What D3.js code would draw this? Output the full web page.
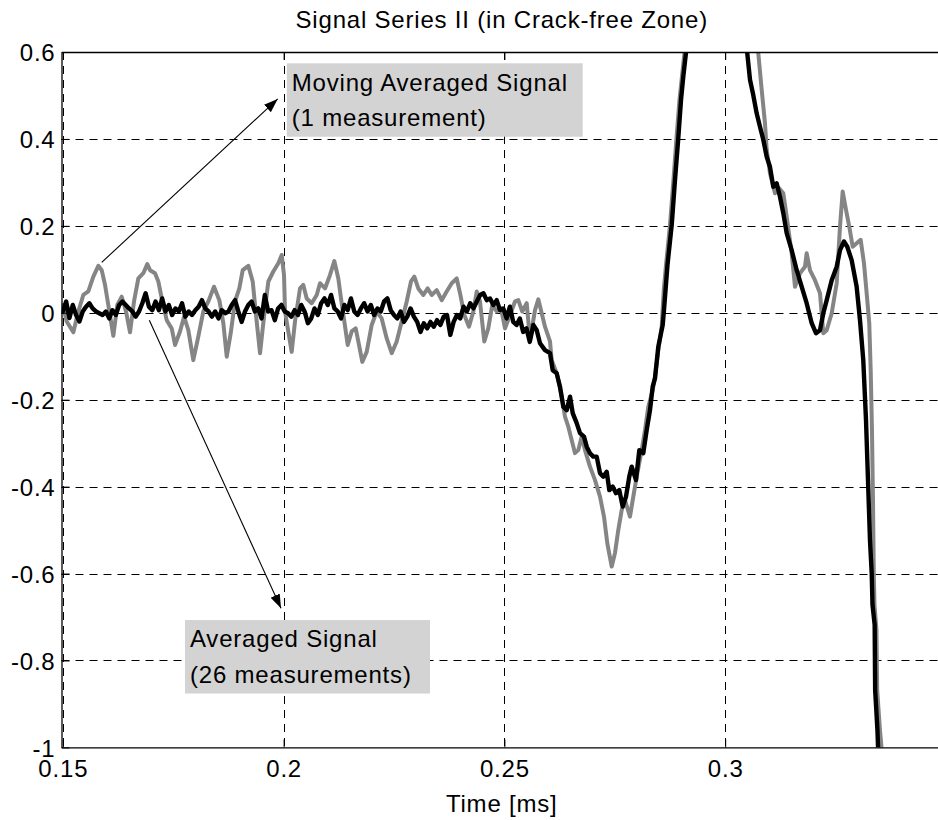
<!DOCTYPE html>
<html>
<head>
<meta charset="utf-8">
<script src="https://cdn.jsdelivr.net/npm/d3@7"></script>
<style>
  html, body { margin: 0; padding: 0; background: #fff; }
  svg text { font-family: "Liberation Sans", Arial, Helvetica, sans-serif; font-size: 24px; letter-spacing: 0.8px; fill: #000; }
</style>
</head>
<body>
<svg id="chart" width="938" height="820"></svg>
<script>
const xTicks = [0.15, 0.2, 0.25, 0.3];
const xTickLabels = ["0.15", "0.2", "0.25", "0.3"];
const yTicks = [-1, -0.8, -0.6, -0.4, -0.2, 0, 0.2, 0.4, 0.6];
const yTickLabels = ["-1", "-0.8", "-0.6", "-0.4", "-0.2", "0", "0.2", "0.4", "0.6"];

// moving averaged signal, 1 measurement (grey)
const graySignal = [
  [0.15, 0.018], [0.15088, -0.020], [0.15238, -0.045], [0.15351, 0.003], [0.15464, 0.041],
  [0.15577, 0.049], [0.15691, 0.083], [0.15804, 0.108], [0.15881, 0.098], [0.15956, 0.064],
  [0.16030, 0.018], [0.16144, -0.053], [0.16234, 0.018], [0.16334, 0.037], [0.16431, 0.003],
  [0.16522, -0.045], [0.16612, 0.026], [0.16710, 0.079], [0.16823, 0.091], [0.16913, 0.112],
  [0.16975, 0.098], [0.17088, 0.091], [0.17163, 0.072], [0.17240, 0.033], [0.17353, -0.017],
  [0.17466, -0.036], [0.17541, -0.074], [0.17654, -0.043], [0.17745, -0.009], [0.17842, -0.040],
  [0.17955, -0.109], [0.18068, -0.055], [0.18182, 0.003], [0.18295, 0.026], [0.18424, 0.060],
  [0.18544, 0.029], [0.18635, -0.024], [0.18712, -0.101], [0.18802, -0.047], [0.18899, 0.026],
  [0.18997, 0.056], [0.19074, 0.098], [0.19201, 0.108], [0.19300, 0.072], [0.19375, -0.005],
  [0.19466, -0.093], [0.19556, -0.009], [0.19654, 0.072], [0.19767, 0.095], [0.19880, 0.114],
  [0.19957, 0.133], [0.20009, 0.087], [0.20032, 0.003], [0.20106, -0.043], [0.20183, -0.090],
  [0.20258, -0.020], [0.20371, 0.056], [0.20446, 0.064], [0.20523, 0.033], [0.20636, 0.022],
  [0.20750, 0.041], [0.20824, 0.068], [0.20938, 0.056], [0.21051, 0.087], [0.21148, 0.119],
  [0.21239, 0.079], [0.21300, 0.033], [0.21375, -0.020], [0.21452, -0.074], [0.21542, -0.043],
  [0.21633, -0.036], [0.21707, -0.074], [0.21782, -0.113], [0.21882, -0.090], [0.21995, -0.028],
  [0.22108, 0.003], [0.22221, -0.013], [0.22335, -0.059], [0.22448, -0.093], [0.22561, -0.066],
  [0.22674, -0.020], [0.22788, 0.026], [0.22885, 0.072], [0.22960, 0.083], [0.23050, 0.056],
  [0.23164, 0.041], [0.23263, 0.056], [0.23354, 0.041], [0.23467, 0.052], [0.23580, 0.029],
  [0.23693, 0.049], [0.23807, 0.068], [0.23920, 0.079], [0.23995, 0.045], [0.24092, -0.005],
  [0.24198, -0.032], [0.24296, 0.003], [0.24373, 0.049], [0.24447, 0.026], [0.24545, -0.066],
  [0.24635, -0.036], [0.24726, 0.018], [0.24826, 0.003], [0.24923, 0.010], [0.25014, -0.036],
  [0.25127, -0.005], [0.25240, 0.026], [0.25315, 0.029], [0.25405, 0.003], [0.25505, 0.022],
  [0.25580, -0.063], [0.25693, 0.006], [0.25768, 0.031], [0.25845, -0.001], [0.25919, -0.032],
  [0.26033, -0.066], [0.26071, -0.109], [0.26184, -0.139], [0.26298, -0.193], [0.26372, -0.239],
  [0.26447, -0.262], [0.26524, -0.293], [0.26599, -0.323], [0.26673, -0.316], [0.26750, -0.285],
  [0.26825, -0.316], [0.26938, -0.354], [0.27052, -0.385], [0.27165, -0.423], [0.27255, -0.469],
  [0.27330, -0.530], [0.27430, -0.584], [0.27504, -0.553], [0.27579, -0.500], [0.27656, -0.454],
  [0.27731, -0.431], [0.27844, -0.469], [0.27919, -0.423], [0.27996, -0.377], [0.28109, -0.316],
  [0.28184, -0.270], [0.28259, -0.216], [0.28358, -0.178], [0.28410, -0.147], [0.28485, -0.086],
  [0.28562, -0.032], [0.28609, 0.052], [0.28660, 0.110], [0.28750, 0.202], [0.28829, 0.306],
  [0.28897, 0.402], [0.28965, 0.490], [0.29078, 0.598], [0.29274, 0.72], [0.29500, 0.81],
  [0.29837, 0.87], [0.30222, 0.82], [0.30562, 0.74], [0.30750, 0.597], [0.30827, 0.513],
  [0.30901, 0.436], [0.30940, 0.375], [0.31014, 0.321], [0.31128, 0.275], [0.31218, 0.287],
  [0.31316, 0.275], [0.31393, 0.221], [0.31506, 0.137], [0.31581, 0.060], [0.31694, 0.091],
  [0.31807, 0.106], [0.31845, 0.137], [0.31920, 0.098], [0.32033, 0.075], [0.32147, 0.045],
  [0.32222, -0.047], [0.32299, -0.040], [0.32412, -0.001], [0.32525, 0.068], [0.32600, 0.198],
  [0.32661, 0.279], [0.32736, 0.237], [0.32810, 0.198], [0.32887, 0.152], [0.32977, 0.160],
  [0.33068, 0.168], [0.33143, 0.114], [0.33204, 0.045], [0.33263, -0.024], [0.33295, -0.132],
  [0.33324, -0.270], [0.33347, -0.431], [0.33365, -0.599], [0.33381, -0.672], [0.33426, -0.730],
  [0.33442, -0.868], [0.33505, -0.960], [0.33566, -1.029]
];

// averaged signal, 26 measurements (black)
const blackSignal = [
  [0.15, 0.003], [0.15075, 0.026], [0.1515, -0.012], [0.15225, 0.018], [0.153, -0.005],
  [0.15375, -0.020], [0.1545, 0.003], [0.15525, 0.014], [0.156, 0.022], [0.15675, 0.010],
  [0.1575, 0.003], [0.15825, -0.001], [0.159, -0.005], [0.15975, 0.003], [0.1605, -0.013],
  [0.16125, 0.006], [0.162, -0.005], [0.16275, 0.018], [0.1635, 0.026], [0.16425, 0.018],
  [0.165, 0.010], [0.16575, 0.003], [0.1665, -0.009], [0.16725, 0.003], [0.168, 0.022],
  [0.16875, 0.045], [0.1695, 0.014], [0.17025, 0.006], [0.171, 0.026], [0.17175, 0.006],
  [0.1725, 0.033], [0.17325, 0.003], [0.174, 0.018], [0.17475, -0.005], [0.1755, 0.010],
  [0.17625, 0.003], [0.177, 0.022], [0.17775, -0.009], [0.1785, 0.003], [0.17925, -0.005],
  [0.18, 0.006], [0.18075, 0.014], [0.1815, 0.029], [0.18225, 0.010], [0.183, 0.003],
  [0.18375, -0.009], [0.1845, 0.003], [0.18525, -0.013], [0.186, 0.006], [0.18675, -0.001],
  [0.1875, 0.003], [0.18825, 0.018], [0.189, 0.029], [0.18975, 0.003], [0.1905, -0.021],
  [0.19125, 0.003], [0.192, 0.018], [0.19275, 0.026], [0.1935, 0.003], [0.19425, 0.010],
  [0.195, -0.013], [0.19575, 0.041], [0.1965, 0.003], [0.19725, 0.006], [0.198, -0.017],
  [0.19875, 0.010], [0.1995, 0.018], [0.20025, 0.003], [0.201, -0.001], [0.20175, -0.009],
  [0.2025, 0.006], [0.20325, -0.005], [0.204, 0.018], [0.20475, 0.003], [0.2055, -0.024],
  [0.20625, -0.013], [0.207, 0.010], [0.20775, -0.005], [0.2085, 0.022], [0.20925, 0.033],
  [0.21, 0.018], [0.21075, 0.041], [0.2115, 0.010], [0.21225, 0.003], [0.213, -0.013],
  [0.21375, 0.018], [0.2145, 0.006], [0.21525, 0.033], [0.216, 0.003], [0.21675, -0.005],
  [0.2175, 0.010], [0.21825, 0.022], [0.219, 0.003], [0.21975, 0.018], [0.2205, -0.005],
  [0.22125, 0.010], [0.222, 0.003], [0.22275, 0.026], [0.2235, 0.033], [0.22425, 0.006],
  [0.225, -0.005], [0.22575, -0.013], [0.2265, 0.003], [0.22725, -0.021], [0.228, -0.009],
  [0.22875, 0.010], [0.2295, -0.009], [0.23025, -0.021], [0.231, -0.044], [0.23175, -0.024],
  [0.2325, -0.036], [0.23325, -0.021], [0.234, -0.032], [0.23475, -0.017], [0.2355, -0.028],
  [0.23625, -0.009], [0.237, -0.005], [0.23775, -0.051], [0.2385, -0.021], [0.23925, -0.005],
  [0.24, -0.013], [0.24075, 0.014], [0.2415, 0.003], [0.24225, 0.022], [0.243, 0.010],
  [0.24375, 0.026], [0.2445, 0.041], [0.24525, 0.045], [0.246, 0.029], [0.24675, 0.033],
  [0.2475, 0.018], [0.24825, 0.029], [0.249, 0.006], [0.24975, 0.010], [0.2505, -0.013],
  [0.25125, 0.014], [0.252, -0.021], [0.25275, -0.028], [0.2535, -0.013], [0.25425, -0.044],
  [0.255, -0.036], [0.25575, -0.067], [0.25655, -0.028], [0.25732, -0.040], [0.25806, -0.070],
  [0.25919, -0.086], [0.26033, -0.093], [0.26094, -0.132], [0.26184, -0.139], [0.26259, -0.170],
  [0.26334, -0.216], [0.26411, -0.224], [0.26486, -0.193], [0.26547, -0.231], [0.26637, -0.254],
  [0.26712, -0.277], [0.26803, -0.285], [0.26864, -0.308], [0.26938, -0.323], [0.27013, -0.331],
  [0.27090, -0.331], [0.27165, -0.369], [0.27240, -0.377], [0.27317, -0.366], [0.27376, -0.408],
  [0.27453, -0.400], [0.27527, -0.415], [0.27602, -0.408], [0.27679, -0.446], [0.27754, -0.423],
  [0.27828, -0.377], [0.27883, -0.354], [0.27980, -0.385], [0.28055, -0.316], [0.28145, -0.323],
  [0.28222, -0.270], [0.28297, -0.224], [0.28358, -0.170], [0.28410, -0.151], [0.28485, -0.078],
  [0.28585, -0.028], [0.28614, 0.006], [0.28693, 0.110], [0.28789, 0.202], [0.28864, 0.306],
  [0.28938, 0.402], [0.29, 0.490], [0.29051, 0.543], [0.29112, 0.598], [0.29316, 0.72],
  [0.29543, 0.81], [0.29837, 0.86], [0.30154, 0.81], [0.30380, 0.73], [0.30500, 0.597],
  [0.30562, 0.536], [0.30636, 0.501], [0.30713, 0.459], [0.30788, 0.428], [0.30863, 0.398],
  [0.30940, 0.359], [0.31014, 0.336], [0.31089, 0.290], [0.31166, 0.298], [0.31241, 0.267],
  [0.31316, 0.229], [0.31393, 0.183], [0.31506, 0.144], [0.31619, 0.098], [0.31732, 0.060],
  [0.31845, 0.022], [0.31959, -0.024], [0.32056, -0.047], [0.32147, -0.040], [0.32222, -0.001],
  [0.32299, 0.029], [0.32412, 0.075], [0.32525, 0.106], [0.32600, 0.144], [0.32690, 0.164],
  [0.32765, 0.152], [0.32864, 0.121], [0.32977, 0.060], [0.33053, -0.017], [0.33127, -0.109],
  [0.33189, -0.247], [0.33234, -0.385], [0.33279, -0.523], [0.33318, -0.599], [0.33336, -0.672],
  [0.33385, -0.718], [0.33396, -0.868], [0.33448, -0.960], [0.33472, -1.029]
];

// text boxes and arrows, in data units
const notes = [
  { lines: ["Moving Averaged Signal", "(1 measurement)"],
    box: [0.20073, 0.574, 0.26773, 0.405], from: [0.15881, 0.116], to: [0.19866, 0.492] },
  { lines: ["Averaged Signal", "(26 measurements)"],
    box: [0.17767, -0.707, 0.23315, -0.876], from: [0.16959, -0.017], to: [0.19941, -0.680] }
];

const svg = d3.select("#chart");

const plotLeft = 61.5, plotRight = 942, plotTop = 52, plotBottom = 747.4;

const xScale = d3.scaleLinear().domain([0.1497, 0.3491]).range([plotLeft, plotRight]);
const yScale = d3.scaleLinear().domain([-1, 0.6]).range([plotBottom, plotTop]);

let defs = svg.append("defs");

defs.append("clipPath").attr("id", "plotClip")
  .append("rect")
  .attr("x", plotLeft).attr("y", plotTop)
  .attr("width", plotRight - plotLeft).attr("height", plotBottom - plotTop);

defs.append("marker")
  .attr("id", "arrowHead")
  .attr("markerUnits", "userSpaceOnUse")
  .attr("markerWidth", 16).attr("markerHeight", 12)
  .attr("refX", 14).attr("refY", 5)
  .attr("orient", "auto")
  .append("path")
  .attr("d", "M0,0 L14,5 L0,10 Z")
  .attr("fill", "#000");

/* grid */
let grid = svg.append("g").attr("class", "grid")
  .attr("stroke", "#000").attr("stroke-width", 1).attr("stroke-dasharray", "8,6");

grid.selectAll(".vgrid").data(xTicks).enter().append("line")
  .attr("class", "vgrid")
  .attr("x1", (d) => Math.round(xScale(d)) + 0.5).attr("x2", (d) => Math.round(xScale(d)) + 0.5)
  .attr("y1", plotTop).attr("y2", plotBottom);

grid.selectAll(".hgrid").data(yTicks.filter((d) => d > -1 && d < 0.6)).enter().append("line")
  .attr("class", "hgrid")
  .attr("x1", plotLeft).attr("x2", plotRight)
  .attr("y1", (d) => Math.round(yScale(d)) + 0.5).attr("y2", (d) => Math.round(yScale(d)) + 0.5);

/* signals */
let line = d3.line().x((d) => xScale(d[0])).y((d) => yScale(d[1]));

let plot = svg.append("g").attr("clip-path", "url(#plotClip)");

plot.append("path")
  .datum(graySignal)
  .attr("d", line)
  .attr("fill", "none")
  .attr("stroke", "#858585")
  .attr("stroke-width", 4)
  .attr("stroke-linejoin", "round")
  .attr("stroke-linecap", "round");

plot.append("path")
  .datum(blackSignal)
  .attr("d", line)
  .attr("fill", "none")
  .attr("stroke", "#000")
  .attr("stroke-width", 4.4)
  .attr("stroke-linejoin", "round")
  .attr("stroke-linecap", "round");

/* axes box with inward ticks */
svg.append("g") /* x-axis bottom */
  .attr("transform", `translate(0, ${plotBottom})`)
  .call(d3.axisBottom(xScale).tickValues(xTicks).tickFormat((d, i) => xTickLabels[i])
    .tickSizeInner(-8).tickSizeOuter(0))
  .call((g) => g.select(".domain").attr("stroke-width", 1.3))
  .call((g) => g.selectAll("text").attr("font-size", null).attr("font-family", null).attr("y", 13).attr("dy", "0.71em"));

svg.append("g") /* x-axis top */
  .attr("transform", `translate(0, ${plotTop})`)
  .call(d3.axisTop(xScale).tickValues(xTicks).tickFormat("").tickSizeInner(-8).tickSizeOuter(0))
  .call((g) => g.select(".domain").attr("stroke-width", 1.3));

svg.append("g") /* y-axis */
  .attr("transform", `translate(${plotLeft}, 0)`)
  .call(d3.axisLeft(yScale).tickValues(yTicks).tickFormat((d, i) => yTickLabels[i])
    .tickSizeInner(-8).tickSizeOuter(0))
  .call((g) => g.select(".domain").attr("stroke-width", 1.3))
  .call((g) => g.selectAll("text").attr("font-size", null).attr("font-family", null).attr("x", -6).attr("dy", "0.36em"));

/* annotations */
let ann = svg.append("g").attr("class", "notes");

ann.selectAll(".arrow").data(notes).enter().append("line")
  .attr("class", "arrow")
  .attr("x1", (d) => xScale(d.from[0])).attr("y1", (d) => yScale(d.from[1]))
  .attr("x2", (d) => xScale(d.to[0])).attr("y2", (d) => yScale(d.to[1]))
  .attr("stroke", "#000").attr("stroke-width", 1.1)
  .attr("marker-end", "url(#arrowHead)");

let boxes = ann.selectAll(".box").data(notes).enter().append("g").attr("class", "box");

boxes.append("rect")
  .attr("x", (d) => xScale(d.box[0]))
  .attr("y", (d) => yScale(d.box[1]))
  .attr("width", (d) => xScale(d.box[2]) - xScale(d.box[0]))
  .attr("height", (d) => yScale(d.box[3]) - yScale(d.box[1]))
  .attr("fill", "#d3d3d3");

boxes.each(function(d) {
  let bx = xScale(d.box[0]), by = yScale(d.box[1]);
  d3.select(this).selectAll("text").data(d.lines).enter().append("text")
    .attr("x", bx + 5)
    .attr("y", (t, i) => by + 27.3 + i * 35.7)
    .text((t) => t);
});

/* title and x label */
svg.append("text")
  .attr("x", (plotLeft + plotRight) / 2).attr("y", 28.3)
  .attr("text-anchor", "middle")
  .text("Signal Series II (in Crack-free Zone)");

svg.append("text")
  .attr("x", (plotLeft + plotRight) / 2).attr("y", 812)
  .attr("text-anchor", "middle")
  .text("Time [ms]");
</script>
</body>
</html>
